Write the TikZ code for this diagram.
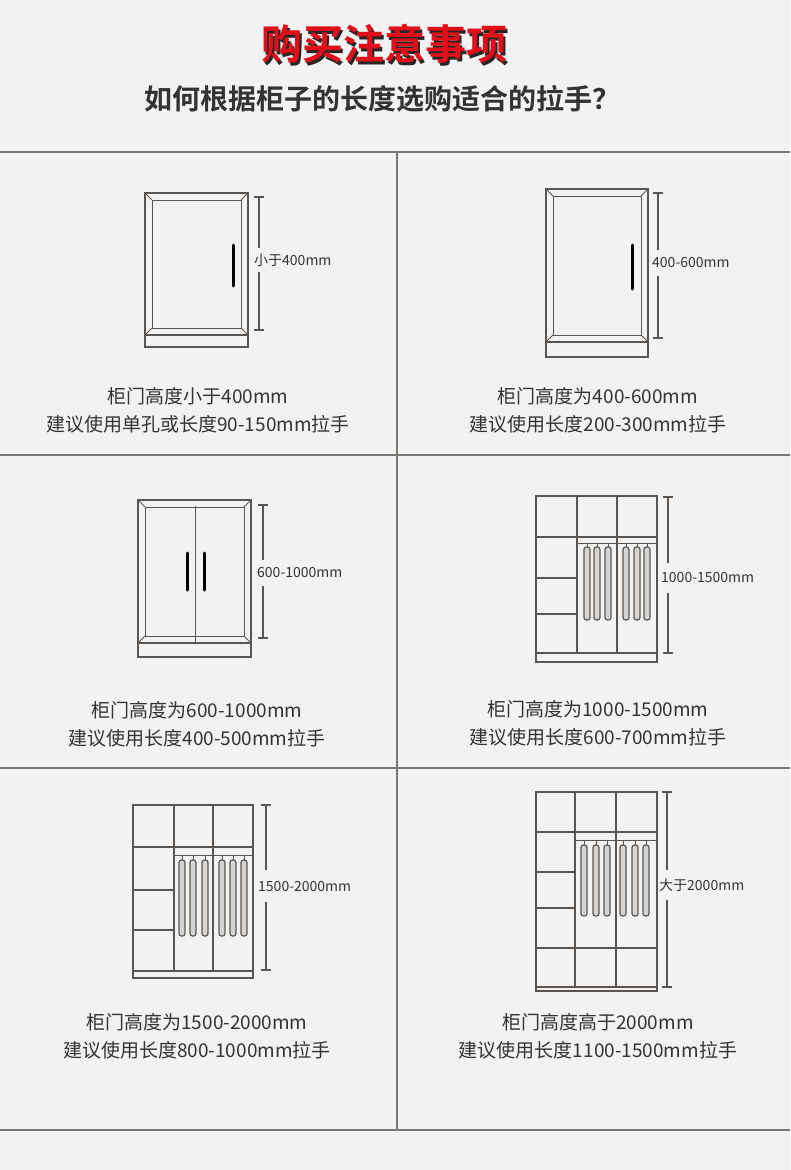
\documentclass[tikz,border=0pt]{standalone}
\usepackage{fontspec}
\setmainfont{Noto Sans CJK SC}
\newfontfamily\cjkb{Noto Sans CJK SC Bold}
\usetikzlibrary{calc}
\definecolor{bgc}{HTML}{F2F2F2}
\definecolor{linec}{HTML}{5A5550}
\definecolor{txtc}{HTML}{333333}
\definecolor{titlered}{HTML}{E0101A}
\tikzset{
  frame/.style={draw=linec, line width=1.4pt},
  thin/.style={draw=linec, line width=0.9pt},
  grid/.style={draw=linec!80, line width=1.6pt},
  handle/.style={line width=3pt, black, line cap=round},
  hanger/.style={draw=linec, line width=1.2pt, fill=linec!25, rounded corners=2.5pt},
  dim/.style={draw=linec, line width=1.1pt},
  dimlabel/.style={font=\fontsize{14}{14}\selectfont, text=txtc, anchor=west, inner sep=0pt},
  caption/.style={font=\fontsize{19}{28}\selectfont, text=txtc, align=center}
}
% door cabinet: left, top, right, bottom of frame, bottom of base
\newcommand{\doorcab}[5]{%
  \draw[frame] (#1,#2) rectangle (#3,#4);
  \draw[frame] (#1,#4) rectangle (#3,#5);
  \draw[thin] (#1+7,#2+7) rectangle (#3-7,#4-7);
  \draw[thin] (#1,#2) -- (#1+7,#2+7) (#3,#2) -- (#3-7,#2+7)
    (#1,#4) -- (#1+7,#4-7) (#3,#4) -- (#3-7,#4-7);
}
% dimension bar: x, top, bottom, gap top, gap bottom
\newcommand{\dimbar}[5]{%
  \draw[dim] (#1-5,#2) -- (#1+5,#2) (#1-5,#3) -- (#1+5,#3);
  \draw[dim] (#1,#2) -- (#1,#4) (#1,#5) -- (#1,#3);
}
\newcommand{\titletext}{购买注意事项}
\begin{document}
\begin{tikzpicture}[x=1pt, y=-1pt]
  \fill[bgc] (0,0) rectangle (790,1170);
  \useasboundingbox (0,0) rectangle (790,1170);

  % title (with shadow)
  \node[font=\cjkb\fontsize{41}{41}\selectfont] (title) at (384,45)
    {\makebox[0pt][l]{\hspace{2pt}\raisebox{-3pt}{\textcolor{black!85}{\titletext}}}\textcolor{titlered}{\titletext}};
  \node[font=\cjkb\fontsize{28}{28}\selectfont, text=txtc] (subtitle) at (382,99) {如何根据柜子的长度选购适合的拉手？};

  % grid
  \foreach \y in {152,455,768,1130} \draw[grid] (0,\y) -- (790,\y);
  \draw[grid] (397,152) -- (397,1130);

  % cell 1
  \doorcab{145}{193}{248}{335}{347}
  \draw[handle] (233,245) -- (233,286);
  \dimbar{259}{197}{330}{248}{272}
  \node[dimlabel] (d1) at (254,260) {小于400mm};
  \node[caption] (c1) at (198,410) {柜门高度小于400mm\\建议使用单孔或长度90-150mm拉手};

  % cell 2
  \doorcab{546}{189}{648}{342}{357}
  \draw[handle] (632,245) -- (632,289);
  \dimbar{658}{193}{338}{250}{276}
  \node[dimlabel] (d2) at (652,263) {400-600mm};
  \node[caption] (c2) at (598,410) {柜门高度为400-600mm\\建议使用长度200-300mm拉手};

  % cell 3
  \doorcab{138}{500}{251}{643}{657}
  \draw[thin] (195,506) -- (195,643);
  \draw[handle] (187,553) -- (187,590);
  \draw[handle] (204,553) -- (204,590);
  \dimbar{263}{505}{638}{560}{586}
  \node[dimlabel] (d3) at (257,573) {600-1000mm};
  \node[caption] (c3) at (197,724) {柜门高度为600-1000mm\\建议使用长度400-500mm拉手};

  % cell 4
  \draw[frame] (536,496) rectangle (657,662);
  \draw[frame] (577,496) -- (577,653) (617,496) -- (617,653)
    (536,537) -- (657,537) (536,578) -- (577,578) (536,614) -- (577,614)
    (536,653) -- (657,653);
  \draw[thin] (577,543) -- (657,543);
  \foreach \x in {587,597,608,626,637,647} {
    \draw[thin] (\x,543) -- (\x,547);
    \draw[hanger] (\x-3,547) rectangle (\x+3,620);
  }
  \dimbar{668}{497}{653}{563}{593}
  \node[dimlabel] (d4) at (661,578) {1000-1500mm};
  \node[caption] (c4) at (598,723) {柜门高度为1000-1500mm\\建议使用长度600-700mm拉手};

  % cell 5
  \draw[frame] (133,805) rectangle (253,978);
  \draw[frame] (174,805) -- (174,971) (213,805) -- (213,971)
    (133,847) -- (253,847) (133,890) -- (174,890) (133,930) -- (174,930)
    (133,971) -- (253,971);
  \draw[thin] (174,855) -- (253,855);
  \foreach \x in {182,193,205,222,233,244} {
    \draw[thin] (\x,855) -- (\x,860);
    \draw[hanger] (\x-3,860) rectangle (\x+3,936);
  }
  \dimbar{266}{805}{970}{870}{902}
  \node[dimlabel] (d5) at (258,886) {1500-2000mm};
  \node[caption] (c5) at (197,1036) {柜门高度为1500-2000mm\\建议使用长度800-1000mm拉手};

  % cell 6
  \draw[frame] (536,792) rectangle (657,991);
  \draw[frame] (575,792) -- (575,987) (616,792) -- (616,987)
    (536,832) -- (657,832) (536,872) -- (575,872) (536,908) -- (575,908)
    (536,948) -- (657,948) (536,987) -- (657,987);
  \draw[thin] (575,840) -- (657,840);
  \foreach \x in {584,596,607,623,635,646} {
    \draw[thin] (\x,840) -- (\x,845);
    \draw[hanger] (\x-3,845) rectangle (\x+3,916);
  }
  \dimbar{667}{792}{987}{870}{900}
  \node[dimlabel] (d6) at (659,885) {大于2000mm};
  \node[caption] (c6) at (598,1036) {柜门高度高于2000mm\\建议使用长度1100-1500mm拉手};
\end{tikzpicture}
\end{document}
